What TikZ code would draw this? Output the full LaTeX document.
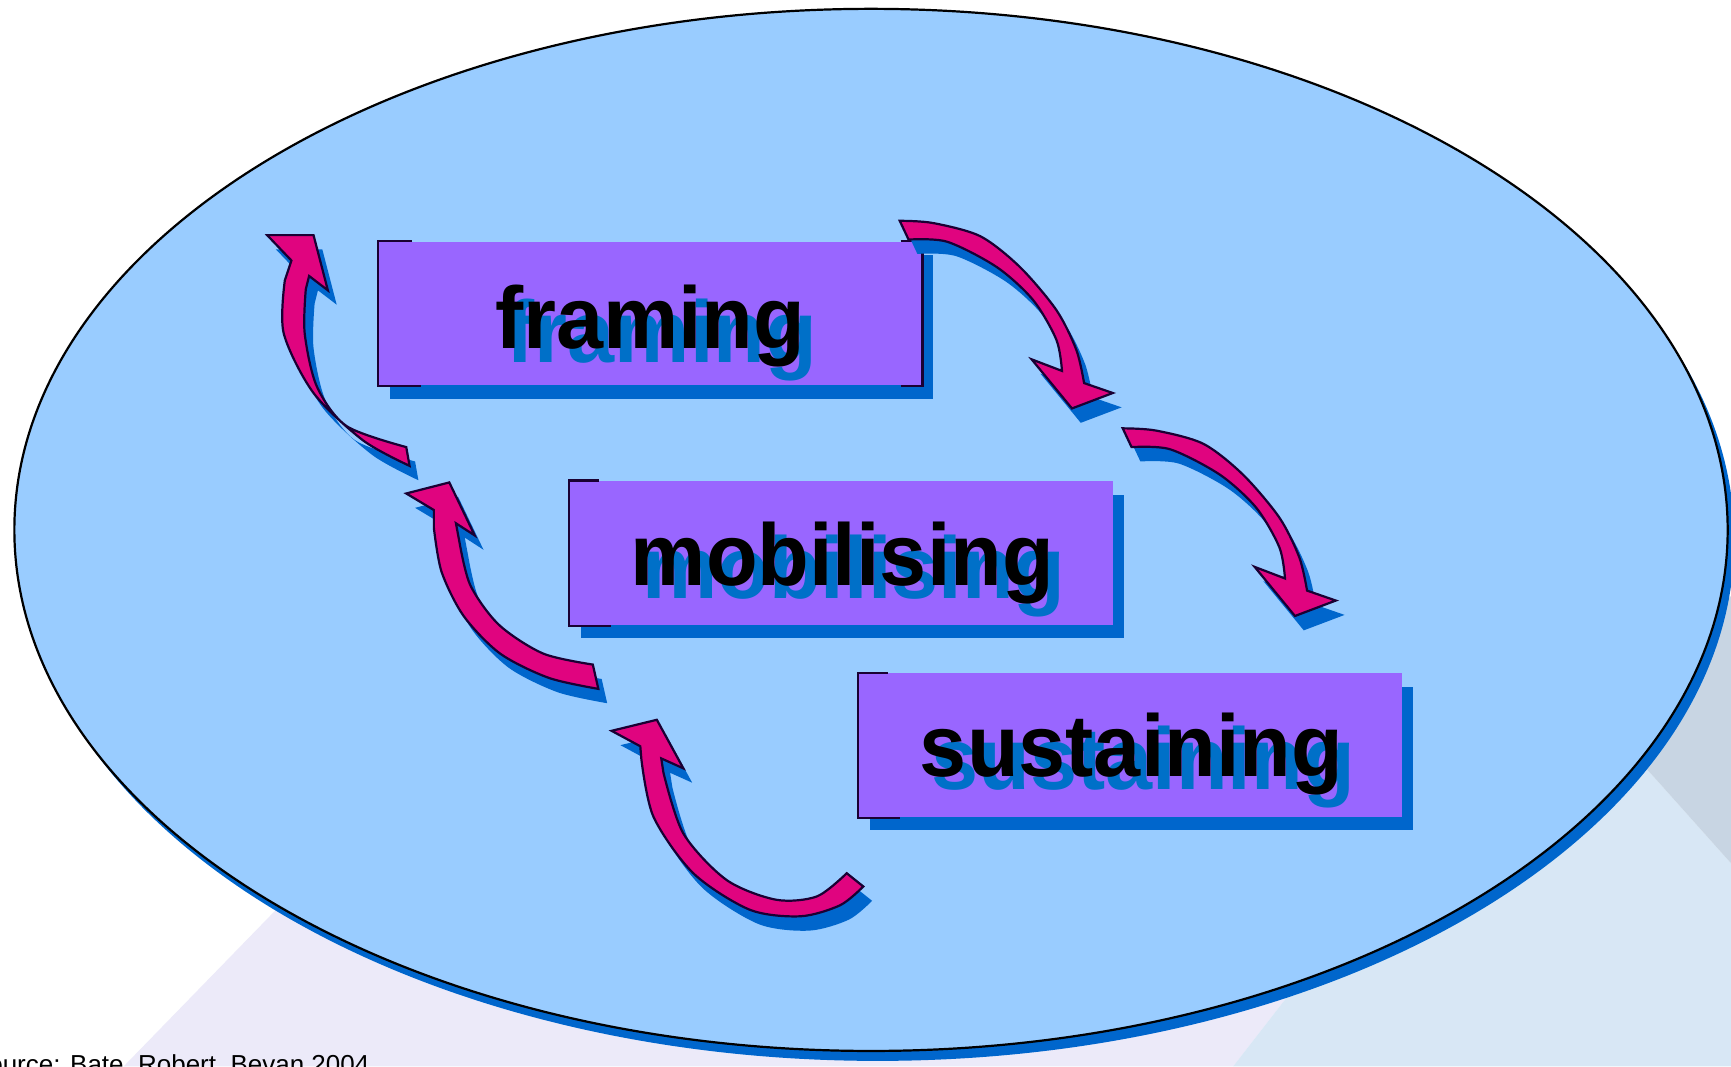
\documentclass[tikz,border=0pt]{standalone}
\usepackage{fontspec}
\usepackage{graphicx}
\setmainfont{Liberation Sans}
\usetikzlibrary{calc,shadows,shapes.geometric}
\definecolor{ellfill}{HTML}{99CCFF}
\definecolor{shblue}{HTML}{0066CC}
\definecolor{boxpurple}{HTML}{9966FF}
\definecolor{arrowmag}{HTML}{E0047F}
\definecolor{edgedark}{HTML}{1A0033}
\definecolor{lav}{HTML}{ECEAF9}
\definecolor{bgblue}{HTML}{D8E7F5}
\definecolor{bggray}{HTML}{C8D5E3}
\definecolor{txtblue}{HTML}{0070C8}
\newcommand{\lbltext}[1]{\scalebox{0.965}[1]{#1}}
\begin{document}
\begin{tikzpicture}[x=0.1mm,y=-0.1mm,
  box/.style={rectangle, fill=boxpurple, minimum width=49.2mm, minimum height=13mm,
    inner sep=0pt, draw=none,
    drop shadow={shadow xshift=1mm, shadow yshift=-1.2mm, fill=shblue, opacity=1, draw=none}},
  bracket/.style={draw=edgedark, line width=0.2mm},
  lbl/.style={font=\fontsize{22.6}{26}\selectfont\bfseries, inner sep=0pt, anchor=base, text=black},
  lblshadow/.style={lbl, text=txtblue},
  curved/.style={fill=arrowmag, draw=edgedark, line width=0.2mm, line join=miter,
    drop shadow={shadow xshift=0.8mm, shadow yshift=-1.3mm, fill=shblue, opacity=1, draw=none}},
  oval/.style={ellipse, minimum width=155.2mm, minimum height=94.4mm, inner sep=0pt,
    fill=ellfill, draw=black, line width=0.2mm,
    drop shadow={shadow xshift=0.6mm, shadow yshift=-0.9mm, fill=shblue, opacity=1, draw=none}}
]
\clip (0,0) rectangle (1568,966);
\useasboundingbox (0,0) rectangle (1568,966);
\fill[white] (0,0) rectangle (1568,966);
% background panels
\fill[lav] (112,966) -- (400,670) -- (1347,670) -- (1117,966) -- cycle;
\fill[bgblue] (1117,966) -- (1347,670) -- (1440,640) -- (1501,707) -- (1568,782) -- (1568,966) -- cycle;
\fill[bggray] (1440,640) -- (1568,540) -- (1568,782) -- (1501,707) -- cycle;
% source
\node[anchor=base west, font=\fontsize{6.7}{8}\selectfont, inner sep=0pt] (src) at (-27,972) {Source: Bate, Robert, Bevan 2004};
% oval
\node[oval] (field) at (789,480) {};
% boxes
\node[box] (framing) at (589,284) {};
\node[box] (mobilising) at (762,501) {};
\node[box] (sustaining) at (1024,675) {};
\draw[bracket] ($(framing.north west)+(31,0)$) -- (framing.north west) -- (framing.south west) -- ($(framing.south west)+(39,0)$);
\draw[bracket] ($(framing.north east)+(-20,0)$) -- (framing.north east) -- (framing.south east) -- ($(framing.south east)+(-20,0)$);
\draw[bracket] ($(mobilising.north west)+(27,0)$) -- (mobilising.north west) -- (mobilising.south west) -- ($(mobilising.south west)+(38,0)$);
\draw[bracket] ($(sustaining.north west)+(27,0)$) -- (sustaining.north west) -- (sustaining.south west) -- ($(sustaining.south west)+(38,0)$);
% labels: blue shadow text first, black text on top
\node[lblshadow] (framingsh) at (599.5,328) {\lbltext{framing}};
\node[lbl] (framingtxt) at (589,316) {\lbltext{framing}};
\node[lblshadow] (mobilisingsh) at (773.5,542) {\lbltext{mobilising}};
\node[lbl] (mobilisingtxt) at (763,530) {\lbltext{mobilising}};
\node[lblshadow] (sustainingsh) at (1035.5,715) {\lbltext{sustaining}};
\node[lbl] (sustainingtxt) at (1025,703) {\lbltext{sustaining}};
% arrows
\draw[curved] (242,213) -- (284,213) -- (297,263) -- (280,250)
  -- plot[smooth] coordinates {(277,262) (276,302) (287,350) (314,386) (368,405)}
  -- plot[smooth] coordinates {(371,422) (329,399) (284,356) (257,302) (258,254)}
  -- (264,236) -- cycle;
\draw[curved] (368,447) -- (407,437) -- (430,485) -- (413,474)
  -- plot[smooth] coordinates {(416,490) (426,530) (452,566) (492,592) (537,602)}
  -- plot[smooth] coordinates {(542,624) (497,614) (453,592) (420,558) (400,518) (393,478)}
  -- (393,462) -- cycle;
\draw[curved] (554,662) -- (595,652) -- (619,696) -- (599,687)
  -- plot[smooth] coordinates {(601,700) (619,755) (658,797) (703,815) (740,812) (767,791)}
  -- plot[smooth] coordinates {(782,803) (761,820) (725,830) (679,824) (628,791) (592,740) (581,688)}
  -- (580,676) -- cycle;
\draw[curved] plot[smooth] coordinates {(815,200) (845,202) (888,214) (924,242) (957,281) (975,317) (982,347)}
  -- (1008,356) -- (971,370) -- (934.5,325.5)
  -- plot[smooth] coordinates {(962,336) (957,308) (936,272) (903,242) (858,219) (823,217)}
  -- cycle;
\begin{scope}[shift={(202,188)}]
\draw[curved] plot[smooth] coordinates {(815,200) (845,202) (888,214) (924,242) (957,281) (975,317) (982,347)}
  -- (1008,356) -- (971,370) -- (934.5,325.5)
  -- plot[smooth] coordinates {(962,336) (957,308) (936,272) (903,242) (858,219) (823,217)}
  -- cycle;
\end{scope}
\end{tikzpicture}
\end{document}
